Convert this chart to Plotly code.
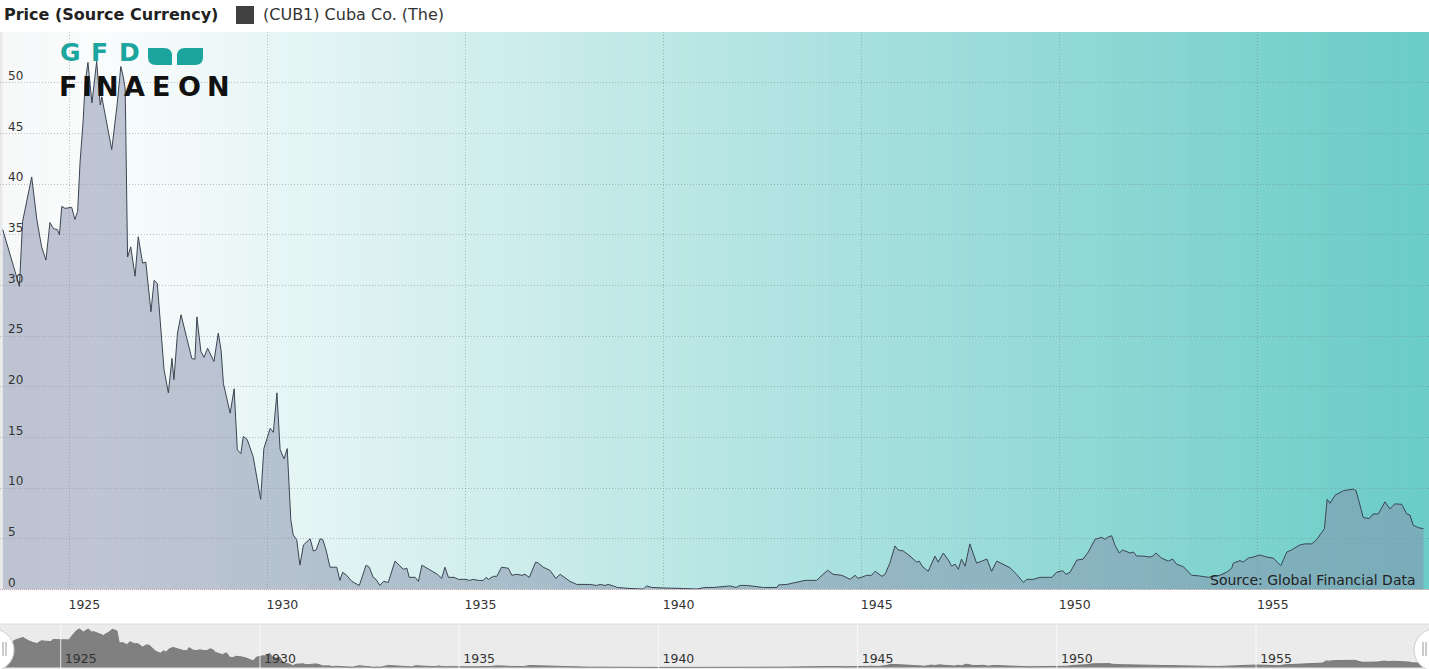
import plotly.graph_objects as go

# ---------------- data ----------------
years = [
    1923.32, 1923.74, 1923.82, 1923.93, 1924.05, 1924.18, 1924.30, 1924.41, 1924.51, 1924.60,
    1924.70, 1924.75, 1924.81, 1924.89, 1925.06, 1925.14, 1925.21, 1925.27, 1925.35, 1925.40,
    1925.47, 1925.57, 1925.69, 1925.78, 1925.82, 1926.07, 1926.20, 1926.30, 1926.36, 1926.41,
    1926.47, 1926.55, 1926.66, 1926.74, 1926.85, 1926.93, 1926.99, 1927.06, 1927.14, 1927.22,
    1927.39, 1927.50, 1927.59, 1927.64, 1927.73, 1927.82, 1928.09, 1928.17, 1928.22, 1928.32,
    1928.40, 1928.49, 1928.65, 1928.76, 1928.83, 1928.89, 1929.06, 1929.16, 1929.24, 1929.33,
    1929.39, 1929.49, 1929.64, 1929.83, 1929.91, 1930.07, 1930.15, 1930.24, 1930.32, 1930.42,
    1930.50, 1930.59, 1930.65, 1930.74, 1930.82, 1930.91, 1931.08, 1931.16, 1931.23, 1931.33,
    1931.40, 1931.48, 1931.58, 1931.75, 1931.83, 1931.90, 1932.00, 1932.13, 1932.32, 1932.49,
    1932.57, 1932.67, 1932.74, 1932.84, 1932.93, 1933.05, 1933.22, 1933.35, 1933.43, 1933.52,
    1933.58, 1933.73, 1933.81, 1933.90, 1934.02, 1934.15, 1934.29, 1934.40, 1934.48, 1934.57,
    1934.71, 1934.82, 1934.99, 1935.11, 1935.20, 1935.32, 1935.45, 1935.52, 1935.58, 1935.70,
    1935.79, 1935.91, 1936.08, 1936.17, 1936.29, 1936.42, 1936.50, 1936.61, 1936.77, 1936.84,
    1936.96, 1937.13, 1937.28, 1937.39, 1937.47, 1937.64, 1937.81, 1938.06, 1938.14, 1938.31,
    1938.40, 1938.52, 1938.60, 1938.73, 1938.83, 1939.15, 1939.49, 1939.57, 1939.70, 1939.99,
    1940.24, 1940.50, 1940.84, 1941.04, 1941.25, 1941.42, 1941.68, 1941.83, 1941.93, 1942.10,
    1942.26, 1942.52, 1942.86, 1942.90, 1943.11, 1943.36, 1943.57, 1943.86, 1944.14, 1944.28,
    1944.50, 1944.71, 1944.83, 1944.91, 1945.13, 1945.25, 1945.34, 1945.51, 1945.59, 1945.71,
    1945.84, 1945.92, 1946.05, 1946.22, 1946.39, 1946.45, 1946.54, 1946.68, 1946.85, 1946.93,
    1947.06, 1947.19, 1947.27, 1947.36, 1947.44, 1947.52, 1947.61, 1947.73, 1947.90, 1948.16,
    1948.28, 1948.41, 1948.74, 1948.91, 1949.08, 1949.17, 1949.33, 1949.50, 1949.80, 1949.92,
    1950.07, 1950.16, 1950.26, 1950.43, 1950.59, 1950.72, 1950.89, 1951.06, 1951.14, 1951.23,
    1951.31, 1951.39, 1951.50, 1951.59, 1951.69, 1951.77, 1951.86, 1951.94, 1952.11, 1952.28,
    1952.35, 1952.43, 1952.57, 1952.74, 1952.85, 1952.95, 1953.12, 1953.20, 1953.33, 1953.50,
    1953.58, 1953.75, 1953.87, 1954.04, 1954.21, 1954.34, 1954.38, 1954.47, 1954.55, 1954.63,
    1954.76, 1954.88, 1955.05, 1955.22, 1955.39, 1955.58, 1955.73, 1955.85, 1956.06, 1956.19,
    1956.36, 1956.48, 1956.61, 1956.68, 1956.75, 1956.82, 1956.95, 1957.16, 1957.41, 1957.48,
    1957.66, 1957.81, 1957.91, 1958.04, 1958.21, 1958.33, 1958.46, 1958.63, 1958.76, 1958.84,
    1958.92, 1959.05, 1959.18,
]
prices = [
    35.5, 29.9, 36.3, 38.4, 40.7, 36.5, 33.8, 32.5, 36.2, 35.6,
    35.5, 35.0, 37.8, 37.6, 37.7, 36.5, 37.3, 42.1, 46.3, 50.0,
    52.0, 48.0, 52.1, 47.8, 48.6, 43.4, 47.6, 51.6, 50.6, 49.4,
    32.8, 33.8, 30.9, 34.8, 32.2, 32.3, 30.2, 27.4, 30.5, 30.2,
    21.7, 19.4, 22.8, 20.7, 25.3, 27.1, 22.8, 22.7, 26.9, 23.5,
    22.9, 23.8, 22.5, 25.3, 23.6, 20.3, 17.4, 19.8, 13.8, 13.4,
    15.1, 14.8, 13.1, 8.9, 13.9, 15.9, 15.5, 19.4, 13.8, 12.9,
    13.9, 6.9, 5.4, 4.9, 2.4, 4.4, 5.0, 3.8, 3.9, 5.0,
    4.9, 3.9, 2.2, 2.2, 0.9, 1.7, 1.4, 0.8, 0.4, 2.4,
    2.2, 1.2, 1.0, 0.4, 0.8, 0.7, 2.8, 2.3, 2.0, 2.1,
    1.2, 1.2, 0.8, 2.4, 2.1, 1.8, 1.5, 1.1, 2.2, 1.2,
    1.2, 1.0, 1.0, 0.9, 1.0, 0.9, 0.9, 1.2, 1.0, 1.3,
    1.3, 2.2, 2.1, 1.4, 1.5, 1.4, 1.5, 1.2, 2.7, 2.6,
    2.2, 1.9, 1.1, 1.5, 1.3, 0.8, 0.5, 0.5, 0.5, 0.4,
    0.5, 0.4, 0.5, 0.35, 0.2, 0.1, 0.05, 0.35, 0.2, 0.15,
    0.15, 0.1, 0.05, 0.2, 0.2, 0.25, 0.35, 0.2, 0.4, 0.4,
    0.3, 0.2, 0.2, 0.45, 0.5, 0.75, 0.9, 0.9, 1.9, 1.5,
    1.4, 1.0, 1.4, 1.1, 1.4, 1.4, 1.8, 1.3, 1.5, 2.6,
    4.3, 3.9, 3.8, 3.3, 2.7, 2.8, 2.25, 1.8, 3.3, 2.7,
    3.6, 2.9, 2.3, 2.5, 2.0, 3.0, 2.3, 4.5, 2.6, 3.0,
    1.8, 2.8, 2.15, 1.5, 0.7, 1.0, 1.0, 1.2, 1.2, 1.7,
    1.85, 1.5, 1.7, 2.9, 3.0, 3.7, 4.95, 5.15, 4.95, 5.2,
    5.3, 4.4, 3.6, 3.9, 3.7, 3.6, 3.7, 3.3, 3.3, 3.2,
    3.3, 3.6, 3.1, 2.8, 3.0, 2.5, 2.25, 1.9, 1.4, 1.35,
    1.3, 1.2, 1.3, 1.4, 1.7, 2.1, 2.6, 2.75, 2.85, 2.7,
    3.1, 3.2, 3.4, 3.2, 3.1, 2.35, 3.7, 3.9, 4.4, 4.5,
    4.5, 4.9, 5.7, 6.0, 8.9, 8.5, 9.3, 9.75, 9.9, 9.75,
    7.1, 7.0, 7.45, 7.45, 8.65, 7.95, 8.45, 8.4, 7.45, 7.35,
    6.35, 6.1, 6.0,
]

x_tick_values = [1925, 1930, 1935, 1940, 1945, 1950, 1955]
x_tick_labels = ["1925", "1930", "1935", "1940", "1945", "1950", "1955"]
y_tick_values = [0, 5, 10, 15, 20, 25, 30, 35, 40, 45, 50, 55]
y_tick_labels = ["0", "5", "10", "15", "20", "25", "30", "35", "40", "45", "50", ""]

series_name = "(CUB1) Cuba Co. (The)"
panel_title = "Price (Source Currency)"
source_text = "Source: Global Financial Data"
logo_top = "GFD"
logo_bottom = "FINAEON"

# ---------------- geometry helpers (pixels -> paper) ----------------
W, H, T = 1429, 669, 32
PLOT_BOTTOM = 589.5
NAV_TOP = 624


def fx(px):
    return px / W


def fy(py):
    return (H - py) / (H - T)


FONT = "DejaVu Sans"

fig = go.Figure()

fig.add_trace(go.Scatter(
    x=years, y=prices, name=series_name, mode="lines", fill="tozeroy",
    line=dict(color="#3b4552", width=1),
    fillcolor="rgba(133,144,171,0.51)",
    xaxis="x", yaxis="y",
))
fig.add_trace(go.Scatter(
    x=years, y=prices, name=series_name, mode="lines", fill="tozeroy",
    line=dict(color="#7a7a7a", width=1), fillcolor="#808080",
    xaxis="x2", yaxis="y2", hoverinfo="skip",
))

shapes = []

# gradient plot background (white -> teal)
stops = [(0.0, (246, 248, 249)), (0.07, (250, 252, 252)), (1.0, (106, 204, 200))]


def grad(t):
    for (t0, c0), (t1, c1) in zip(stops[:-1], stops[1:]):
        if t0 <= t <= t1:
            f = (t - t0) / (t1 - t0)
            return tuple(round(a + (b - a) * f) for a, b in zip(c0, c1))
    return stops[-1][1]


N = 143
for i in range(N):
    t = (i + 0.5) / N
    r, g, b = grad(t)
    shapes.append(dict(type="rect", xref="paper", yref="paper",
                       x0=i / N, x1=(i + 1) / N + 0.001, y0=fy(PLOT_BOTTOM), y1=1,
                       fillcolor=f"rgb({r},{g},{b})", line=dict(width=0), layer="below"))
# thin grey strip at the left edge
shapes.append(dict(type="rect", xref="paper", yref="paper", x0=0, x1=fx(2.5),
                   y0=fy(PLOT_BOTTOM), y1=1, fillcolor="#e9e9e9", line=dict(width=0), layer="below"))
# bottom axis line (dotted reddish)
shapes.append(dict(type="line", xref="paper", yref="paper", x0=0, x1=1,
                   y0=fy(PLOT_BOTTOM), y1=fy(PLOT_BOTTOM),
                   line=dict(color="rgba(200,140,140,0.8)", width=1, dash="1px,1px"), layer="above"))

# navigator background
shapes.append(dict(type="rect", xref="paper", yref="y2 domain", x0=0, x1=1, y0=0, y1=1,
                   fillcolor="#ebebeb", line=dict(width=0), layer="below"))
shapes.append(dict(type="line", xref="paper", yref="y2 domain", x0=0, x1=1, y0=1, y1=1,
                   line=dict(color="#dcdcdc", width=1), layer="below"))
# navigator grid lines (drawn above the series as in the reference)
for tv in x_tick_values:
    shapes.append(dict(type="line", xref="x2", yref="y2 domain", x0=tv, x1=tv, y0=0, y1=1,
                       line=dict(color="rgba(250,250,250,0.85)", width=1), layer="above"))

# navigator handles
for cx in (-7, W + 6):
    shapes.append(dict(type="circle", xref="paper", yref="paper",
                       x0=fx(cx - 21), x1=fx(cx + 21), y0=fy(671), y1=fy(629),
                       fillcolor="white", line=dict(color="#cfcfcf", width=1), layer="above"))
for gx in (3, 6, W - 6, W - 3):
    shapes.append(dict(type="line", xref="paper", yref="paper",
                       x0=fx(gx), x1=fx(gx), y0=fy(656), y1=fy(642),
                       line=dict(color="#9a9a9a", width=1), layer="above"))

# legend square
shapes.append(dict(type="rect", xref="paper", yref="paper", x0=fx(236), x1=fx(254),
                   y0=fy(24), y1=fy(6), fillcolor="#404040", line=dict(width=0)))

# logo leaves
TEAL = "#1ca59d"
leaf1 = (f"M {fx(148)} {fy(48)} L {fx(164)} {fy(48)} Q {fx(172)} {fy(48)} {fx(172)} {fy(56)} "
         f"L {fx(172)} {fy(65)} L {fx(156)} {fy(65)} Q {fx(148)} {fy(65)} {fx(148)} {fy(57)} Z")
leaf2 = (f"M {fx(185)} {fy(48)} L {fx(203)} {fy(48)} L {fx(203)} {fy(57)} "
         f"Q {fx(203)} {fy(65)} {fx(195)} {fy(65)} L {fx(177)} {fy(65)} L {fx(177)} {fy(56)} "
         f"Q {fx(177)} {fy(48)} {fx(185)} {fy(48)} Z")
for p in (leaf1, leaf2):
    shapes.append(dict(type="path", xref="paper", yref="paper", path=p,
                       fillcolor=TEAL, line=dict(width=0), layer="above"))

annotations = [
    dict(text=f"<b>{panel_title}</b>", x=fx(2), y=fy(15), xref="paper", yref="paper",
         xanchor="left", yanchor="middle", showarrow=False,
         font=dict(family=FONT, size=16, color="#222222")),
    dict(text=series_name, x=fx(261), y=fy(15), xref="paper", yref="paper",
         xanchor="left", yanchor="middle", showarrow=False,
         font=dict(family=FONT, size=16, color="#333333")),
    dict(text=source_text, x=fx(1418), y=fy(580), xref="paper", yref="paper",
         xanchor="right", yanchor="middle", showarrow=False,
         font=dict(family=FONT, size=14, color="#222222")),
    # the "0" axis label (plotly hides inside labels at the very edge of the axis)
    dict(text=y_tick_labels[0], x=fx(6), y=y_tick_values[0], xref="paper", yref="y",
         xanchor="left", yanchor="middle", yshift=7, showarrow=False,
         font=dict(family=FONT, size=12, color="#333333")),
]

# logo letters, spread out like the wide logo lettering
for ch, cxp in zip(logo_top, (70, 100, 129)):
    annotations.append(dict(text=f"<b>{ch}</b>", x=fx(cxp), y=fy(69), xref="paper", yref="paper",
                            xanchor="center", yanchor="bottom", showarrow=False,
                            font=dict(family=FONT, size=25, color=TEAL)))
for ch, cxp in zip(logo_bottom, (68, 87, 107, 134, 161, 189, 218)):
    annotations.append(dict(text=f"<b>{ch}</b>", x=fx(cxp), y=fy(69), xref="paper", yref="paper",
                            xanchor="center", yanchor="top", showarrow=False,
                            font=dict(family=FONT, size=27, color="#111111")))

GRID = "rgba(110,120,125,0.45)"
GDASH = "1px,2px"

fig.update_layout(
    width=W, height=H,
    margin=dict(l=0, r=0, t=T, b=0),
    paper_bgcolor="white", plot_bgcolor="rgba(0,0,0,0)",
    showlegend=False,
    shapes=shapes, annotations=annotations,
    xaxis=dict(domain=[0, 1], anchor="y", range=[1923.25, 1959.32],
               tickmode="array", tickvals=x_tick_values, ticktext=x_tick_labels,
               showgrid=True, gridcolor=GRID, griddash=GDASH, gridwidth=1,
               zeroline=False, showline=False, ticks="", ticklabelshift=15,
               ticklabelstandoff=6,
               tickfont=dict(family=FONT, size=12.5, color="#333333"), fixedrange=True),
    yaxis=dict(domain=[fy(PLOT_BOTTOM), 1], anchor="x", range=[0, 55],
               tickmode="array", tickvals=y_tick_values, ticktext=y_tick_labels,
               showgrid=True, gridcolor=GRID, griddash=GDASH, gridwidth=1,
               zeroline=False, showline=False, ticks="",
               ticklabelposition="inside", ticklabelshift=-7, ticklabelstandoff=5,
               tickfont=dict(family=FONT, size=12, color="#333333"), fixedrange=True),
    xaxis2=dict(domain=[0, 1], anchor="y2", range=[1923.476, 1959.34],
                tickmode="array", tickvals=x_tick_values, ticktext=x_tick_labels,
                showgrid=False, zeroline=False, showline=False, ticks="",
                ticklabelposition="inside", ticklabelshift=20, ticklabelstandoff=1,
                tickfont=dict(family=FONT, size=12.5, color="#333333"), fixedrange=True),
    yaxis2=dict(domain=[0, fy(NAV_TOP)], anchor="x2", range=[-2, 58.8],
                visible=False, fixedrange=True),
)

fig.write_html(
    "out.html",
    config={"displayModeBar": False},
    post_script="document.body.style.margin='0';document.body.style.overflow='hidden';",
)
